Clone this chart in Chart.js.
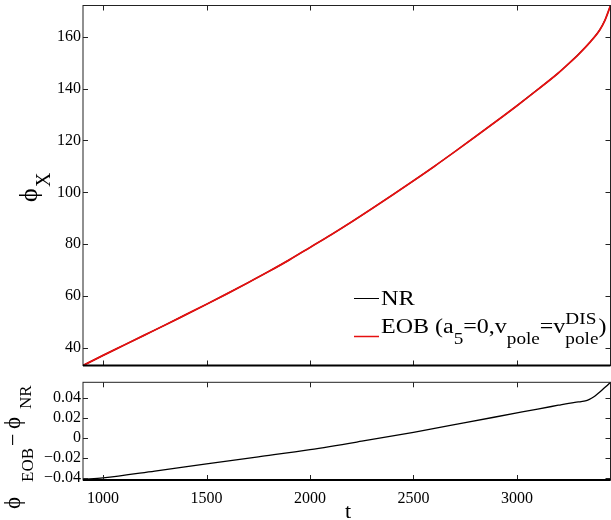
<!DOCTYPE html>
<html>
<head>
<meta charset="utf-8">
<script src="https://cdn.jsdelivr.net/npm/chart.js@4.4.0/dist/chart.umd.min.js"></script>
<style>
  html, body { margin: 0; padding: 0; background: #fff; }
  #wrap { position: relative; width: 611px; height: 520px; }
  #wrap canvas { position: absolute; left: 0; }
</style>
</head>
<body>
<div id="wrap">
  <canvas id="phaseChart" width="611" height="372" style="top:0"></canvas>
  <canvas id="diffChart" width="611" height="148" style="top:372px"></canvas>
</div>
<script>
// time samples and accumulated phase (NR and EOB coincide at this scale)
const tPhase = [903, 1000, 1100, 1200, 1300, 1400, 1500, 1600, 1700, 1800, 1900, 2000, 2100, 2200, 2300,
  2400, 2500, 2600, 2700, 2800, 2900, 3000, 3100, 3200, 3250, 3300, 3350, 3400, 3425, 3452];
const phaseNR = [33.3, 37.2, 41.1, 45.0, 48.9, 52.9, 56.9, 61.0, 65.2, 69.5, 74.0, 78.8, 83.6, 88.6, 93.8,
  99.1, 104.5, 110.0, 115.7, 121.5, 127.4, 133.4, 139.6, 146.0, 149.6, 153.4, 157.6, 162.6, 166.3, 172.0];
const phaseEOB = [33.3, 37.2, 41.1, 45.0, 48.9, 52.9, 56.9, 61.0, 65.2, 69.5, 74.0, 78.8, 83.6, 88.6, 93.8,
  99.1, 104.5, 110.0, 115.7, 121.5, 127.4, 133.4, 139.6, 146.0, 149.6, 153.4, 157.6, 162.6, 166.3, 172.0];

// phase difference EOB - NR
const tDiff = [903, 1000, 1250, 1500, 1750, 2000, 2250, 2500, 2750, 3000, 3100, 3200, 3250, 3280, 3310,
  3330, 3350, 3370, 3390, 3410, 3430, 3452];
const phaseDiff = [-0.0420, -0.0404, -0.0335, -0.0263, -0.0192, -0.0120, -0.0036, 0.0053, 0.0150, 0.0248,
  0.0287, 0.0325, 0.0344, 0.0354, 0.0362, 0.0368, 0.0384, 0.0408, 0.0440, 0.0475, 0.0512, 0.0555];

const tTicks = [1000, 1500, 2000, 2500, 3000];
const phaseTicks = [40, 60, 80, 100, 120, 140, 160];
const diffTicks = [-0.04, -0.02, 0, 0.02, 0.04];

const serif = "'Liberation Serif', 'Times New Roman', serif";
const red = "rgb(230, 16, 16)";
const PHI = "\u03d5";

function toPoints(xs, ys) {
  return xs.map((x, i) => ({ x: x, y: ys[i] }));
}

// draw text pieces (sub/superscripts) in a local frame
function drawPieces(ctx, x, y, rot, kx, pieces) {
  ctx.save();
  ctx.translate(x, y);
  ctx.rotate(rot);
  ctx.scale(kx, 1);
  ctx.fillStyle = "#000";
  ctx.textBaseline = "alphabetic";
  ctx.textAlign = "left";
  let cx = 0;
  pieces.forEach((p) => {
    ctx.font = p.size + "px " + serif;
    const u = p.u !== undefined ? p.u : cx;
    ctx.fillText(p.text, u, p.v || 0);
    let w = ctx.measureText(p.text).width;
    if (p.over) {
      ctx.font = p.over.size + "px " + serif;
      ctx.fillText(p.over.text, u, p.over.v);
      w = Math.max(w, ctx.measureText(p.over.text).width);
    }
    cx = u + w + (p.gap || 0);
  });
  ctx.restore();
}

// box with inward ticks on all four sides
const framePlugin = {
  id: "frame",
  afterDatasetsDraw(chart) {
    const { ctx, chartArea: a, scales } = chart;
    ctx.save();
    ctx.strokeStyle = "#222";
    ctx.lineWidth = 1;
    ctx.beginPath();
    scales.x.ticks.forEach((t) => {
      const px = Math.round(scales.x.getPixelForValue(t.value)) + 0.5;
      ctx.moveTo(px, a.bottom);
      ctx.lineTo(px, a.bottom - 5);
      ctx.moveTo(px, a.top);
      ctx.lineTo(px, a.top + 5);
    });
    scales.y.ticks.forEach((t) => {
      const py = Math.round(scales.y.getPixelForValue(t.value)) + 0.5;
      ctx.moveTo(a.left, py);
      ctx.lineTo(a.left + 5, py);
      ctx.moveTo(a.right, py);
      ctx.lineTo(a.right - 5, py);
    });
    ctx.stroke();
    ctx.strokeRect(a.left, a.top, a.right - a.left, a.bottom - a.top);
    ctx.strokeStyle = "#000";
    ctx.lineWidth = 2;
    ctx.beginPath();
    ctx.moveTo(a.left, a.bottom);
    ctx.lineTo(a.right, a.bottom);
    ctx.stroke();
    ctx.restore();
  },
};

const phaseLabels = {
  id: "phaseLabels",
  afterDraw(chart) {
    const ctx = chart.ctx;
    // y title
    drawPieces(ctx, 37, 202, -Math.PI / 2, 1, [
      { text: PHI, size: 26, u: 0 },
      { text: "X", size: 20, u: 15, v: 13 },
    ]);
    // legend
    ctx.save();
    ctx.lineWidth = 1;
    ctx.strokeStyle = "#000";
    ctx.beginPath();
    ctx.moveTo(354, 298.5);
    ctx.lineTo(379, 298.5);
    ctx.stroke();
    ctx.lineWidth = 1.5;
    ctx.strokeStyle = red;
    ctx.beginPath();
    ctx.moveTo(354, 336.5);
    ctx.lineTo(379, 336.5);
    ctx.stroke();
    ctx.restore();
    drawPieces(ctx, 381, 305, 0, 1.22, [{ text: "NR", size: 20 }]);
    drawPieces(ctx, 381, 333, 0, 1.2, [
      { text: "EOB (a", size: 20 },
      { text: "5", size: 16, v: 11 },
      { text: "=0,v", size: 20 },
      { text: "pole", size: 16, v: 11 },
      { text: "=v", size: 20 },
      { text: "pole", size: 16, v: 11, over: { text: "DIS", size: 16, v: -9 } },
      { text: ")", size: 20 },
    ]);
  },
};

const diffLabels = {
  id: "diffLabels",
  afterDraw(chart) {
    const ctx = chart.ctx;
    // y title, canvas starts at y = 372
    drawPieces(ctx, 20, 509 - 372, -Math.PI / 2, 1, [
      { text: PHI, size: 23, u: 0 },
      { text: "EOB", size: 17, u: 27, v: 13 },
      { text: "\u2212", size: 22, u: 63 },
      { text: PHI, size: 23, u: 80 },
      { text: "NR", size: 17, u: 100, v: 11 },
    ]);
    ctx.save();
    ctx.fillStyle = "#000";
    ctx.font = "22px " + serif;
    ctx.textAlign = "center";
    ctx.textBaseline = "alphabetic";
    ctx.fillText("t", 348, 518 - 372);
    ctx.restore();
  },
};

function yAxis(min, max, ticks, fontSize, fmt) {
  return {
    type: "linear",
    min: min,
    max: max,
    afterBuildTicks: (s) => { s.ticks = ticks.map((v) => ({ value: v })); },
    afterFit: (s) => { s.width = 83; s.paddingTop = 0; s.paddingBottom = 0; },
    grid: { display: false, drawTicks: false },
    border: { display: false },
    ticks: {
      padding: 2,
      color: "#000",
      font: { family: serif, size: fontSize },
      callback: fmt,
    },
  };
}

function xAxis(showLabels, height) {
  return {
    type: "linear",
    min: 903,
    max: 3452,
    afterBuildTicks: (s) => { s.ticks = tTicks.map((v) => ({ value: v })); },
    afterFit: (s) => { s.height = height; s.paddingLeft = 0; s.paddingRight = 0; },
    grid: { display: false, drawTicks: false },
    border: { display: false },
    ticks: {
      display: showLabels,
      padding: 9,
      color: "#000",
      font: { family: serif, size: 16 },
      callback: (v) => String(v),
    },
  };
}

const common = {
  responsive: false,
  devicePixelRatio: 1,
  animation: false,
  plugins: { legend: { display: false }, tooltip: { enabled: false } },
  elements: { point: { radius: 0 } },
};

new Chart(document.getElementById("phaseChart"), {
  type: "line",
  data: {
    datasets: [
      {
        label: "EOB",
        data: toPoints(tPhase, phaseEOB),
        borderColor: red,
        borderWidth: 1.8,
        cubicInterpolationMode: "monotone",
        order: 0,
      },
      {
        label: "NR",
        data: toPoints(tPhase, phaseNR),
        borderColor: "#000",
        borderWidth: 1.2,
        cubicInterpolationMode: "monotone",
        order: 1,
      },
    ],
  },
  options: {
    ...common,
    layout: { padding: { top: 5.5, right: 0.5, left: 0, bottom: 6.5 } },
    scales: {
      x: xAxis(false, 0),
      y: yAxis(33.3, 172.0, phaseTicks, 16, (v) => String(v)),
    },
  },
  plugins: [framePlugin, phaseLabels],
});

new Chart(document.getElementById("diffChart"), {
  type: "line",
  data: {
    datasets: [
      {
        label: "EOB - NR",
        data: toPoints(tDiff, phaseDiff),
        borderColor: "#000",
        borderWidth: 1.3,
        cubicInterpolationMode: "monotone",
      },
    ],
  },
  options: {
    ...common,
    layout: { padding: { top: 10.3, right: 0.5, left: 0, bottom: 0 } },
    scales: {
      x: xAxis(true, 40),
      y: yAxis(-0.0425, 0.0555, diffTicks, 16, (v) =>
        v === 0 ? "0" : (v < 0 ? "\u2212" : "") + Math.abs(v).toFixed(2)),
    },
  },
  plugins: [framePlugin, diffLabels],
});
</script>
</body>
</html>
